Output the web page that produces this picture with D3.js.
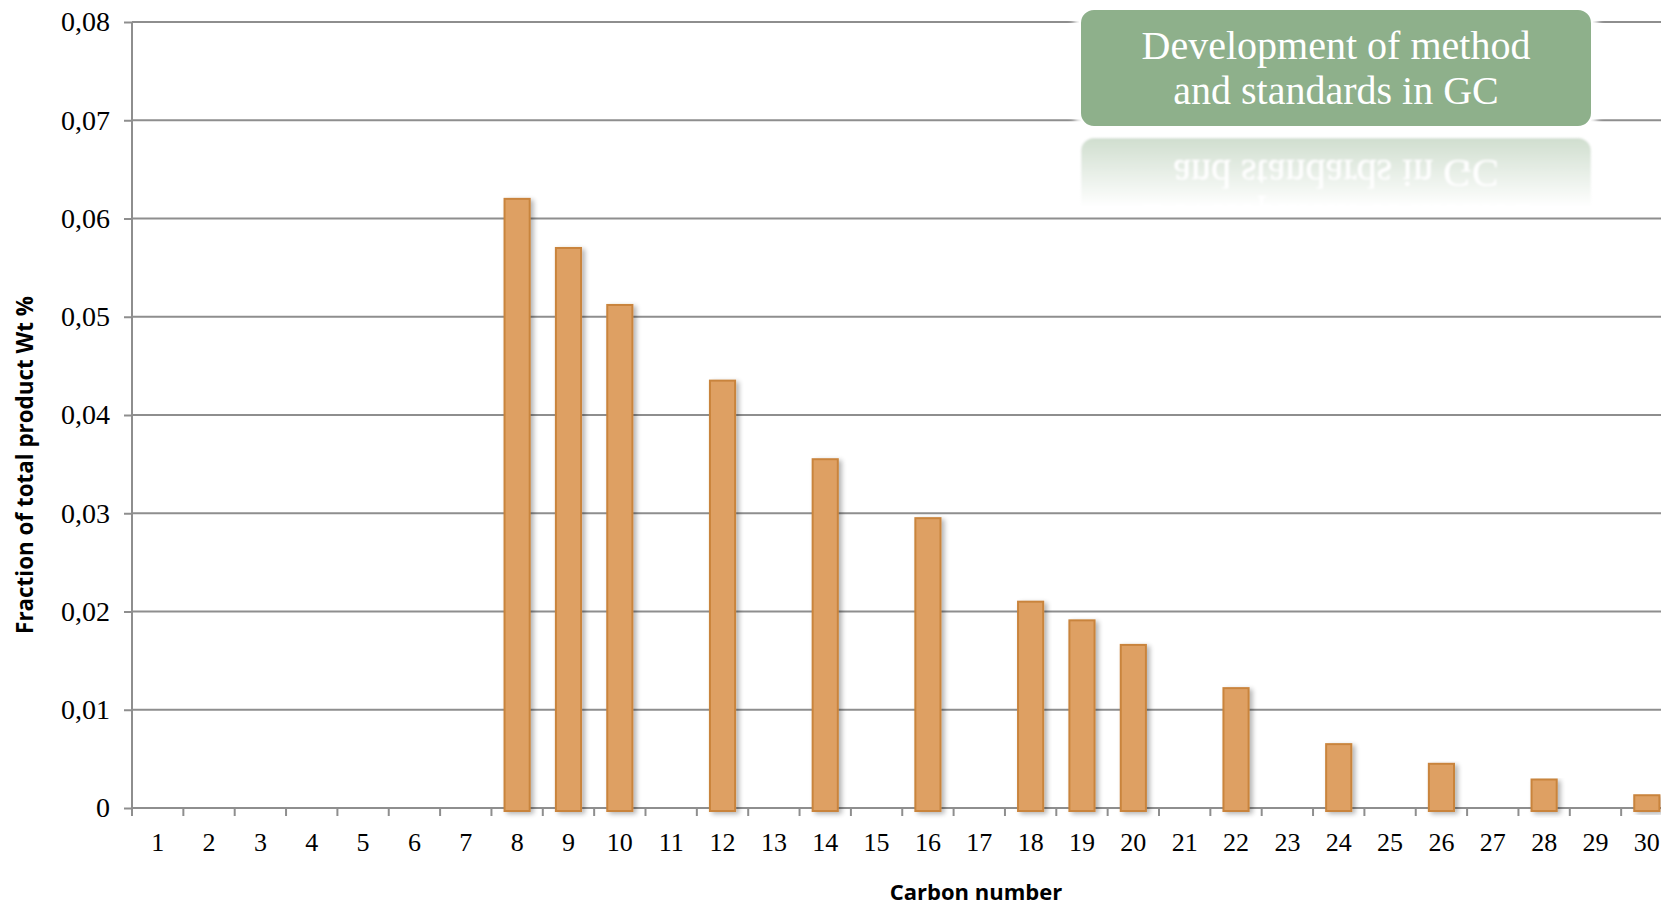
<!DOCTYPE html>
<html>
<head>
<meta charset="utf-8">
<script src="https://cdn.jsdelivr.net/npm/d3@7"></script>
<style>
  html, body { margin: 0; padding: 0; background: #fff; }
  svg { display: block; }
</style>
</head>
<body>
<svg id="chart" width="1661" height="908"></svg>
<script>
// Carbon numbers on the x axis
const carbonNumbers = d3.range(1, 31);
// Fraction of total product (Wt %) per carbon number; 0 where nothing was measured
const fractions = [
  0, 0, 0, 0, 0, 0, 0,
  0.0620, 0.0570, 0.0512, 0, 0.0435, 0, 0.0355, 0, 0.0295, 0,
  0.0210, 0.0191, 0.0166, 0, 0.0122, 0, 0.0065, 0, 0.0045, 0, 0.0029, 0, 0.0013
];
const yTickValues = [0, 0.01, 0.02, 0.03, 0.04, 0.05, 0.06, 0.07, 0.08];
const yTickLabels = ["0", "0,01", "0,02", "0,03", "0,04", "0,05", "0,06", "0,07", "0,08"];
const titleLines = ["Development of method", "and standards in GC"];

const svg = d3.select("#chart");
const W = 1661, H = 908;
const plotLeft = 132, plotBottom = 808, plotTop = 22;
const bandWidth = 51.35;
const plotRight = plotLeft + bandWidth * carbonNumbers.length;

const x = d3.scaleBand().domain(carbonNumbers).range([plotLeft, plotRight]).paddingInner(0.51).paddingOuter(0.255);
const xEdges = d3.scaleLinear().domain([0, carbonNumbers.length]).range([plotLeft, plotRight]);
const y = d3.scaleLinear().domain([0, 0.08]).range([plotBottom, plotTop]);

const defs = svg.append("defs");
const shadow = defs.append("filter").attr("id", "barShadow")
  .attr("x", "-30%").attr("y", "-10%").attr("width", "170%").attr("height", "130%");
shadow.append("feGaussianBlur").attr("in", "SourceAlpha").attr("stdDeviation", 2.5).attr("result", "b");
shadow.append("feOffset").attr("in", "b").attr("dx", 3).attr("dy", 2).attr("result", "o");
shadow.append("feComponentTransfer").attr("in", "o").attr("result", "s")
  .append("feFuncA").attr("type", "linear").attr("slope", 0.3);
const mg = shadow.append("feMerge");
mg.append("feMergeNode").attr("in", "s");
mg.append("feMergeNode").attr("in", "SourceGraphic");

// Gridlines
svg.append("g")
  .selectAll("line").data(yTickValues.filter(v => v > 0)).join("line")
  .attr("x1", plotLeft).attr("x2", W)
  .attr("y1", d => y(d)).attr("y2", d => y(d))
  .attr("stroke", "#8e8e8e").attr("stroke-width", 2);

// Y axis
const yAxis = d3.axisLeft(y).tickValues(yTickValues).tickSize(8).tickPadding(14)
  .tickFormat((d, i) => yTickLabels[i]);
const gy = svg.append("g").attr("transform", `translate(${plotLeft},0)`).call(yAxis);
gy.select(".domain").attr("stroke", "#8e8e8e").attr("stroke-width", 2).attr("d", `M0,${plotTop}V${plotBottom}`);
gy.selectAll(".tick line").attr("stroke", "#8e8e8e").attr("stroke-width", 2);
gy.selectAll(".tick text")
  .attr("font-family", "'Liberation Serif', 'DejaVu Serif', serif")
  .attr("font-size", 28).attr("fill", "#000");

// X axis baseline and ticks at category boundaries
svg.append("line").attr("x1", plotLeft).attr("x2", W).attr("y1", plotBottom).attr("y2", plotBottom)
  .attr("stroke", "#8e8e8e").attr("stroke-width", 2);
svg.append("g").selectAll("line").data(d3.range(0, carbonNumbers.length + 1)).join("line")
  .attr("x1", d => xEdges(d)).attr("x2", d => xEdges(d))
  .attr("y1", plotBottom).attr("y2", plotBottom + 8)
  .attr("stroke", "#8e8e8e").attr("stroke-width", 2);
svg.append("g").selectAll("text").data(carbonNumbers).join("text")
  .attr("x", d => x(d) + x.bandwidth() / 2)
  .attr("y", 851)
  .attr("text-anchor", "middle")
  .attr("font-family", "'Liberation Serif', 'DejaVu Serif', serif")
  .attr("font-size", 26).attr("fill", "#000")
  .text(d => d);

// Bars
svg.append("g").selectAll("rect")
  .data(carbonNumbers.map((c, i) => ({ c, v: fractions[i] })).filter(d => d.v > 0))
  .join("rect")
  .attr("x", d => x(d.c))
  .attr("y", d => y(d.v))
  .attr("width", x.bandwidth())
  .attr("height", d => plotBottom + 3 - y(d.v))
  .attr("fill", "#dea064")
  .attr("stroke", "#c9843c")
  .attr("stroke-width", 2)
  .attr("filter", "url(#barShadow)");

// Axis titles
svg.append("text")
  .attr("x", 976).attr("y", 900)
  .attr("text-anchor", "middle")
  .attr("font-family", "'Open Sans', 'Liberation Sans', sans-serif")
  .attr("font-weight", "bold").attr("font-size", 22).attr("fill", "#000")
  .text("Carbon number");
svg.append("text")
  .attr("transform", "translate(33,465) rotate(-90)")
  .attr("text-anchor", "middle")
  .attr("font-family", "'Open Sans', 'Liberation Sans', sans-serif")
  .attr("font-weight", "bold").attr("font-size", 22.4).attr("fill", "#000")
  .text("Fraction of total product Wt %");

// Title badge with a mirrored, fading reflection beneath it
const bx = 1080, by = 9, bw = 512, bh = 118;
const glow = defs.append("filter").attr("id", "glow").attr("x", "-5%").attr("y", "-10%").attr("width", "110%").attr("height", "120%");
glow.append("feGaussianBlur").attr("stdDeviation", 3);
const soften = defs.append("filter").attr("id", "soften");
soften.append("feGaussianBlur").attr("stdDeviation", 0.8);
const fade = defs.append("linearGradient").attr("id", "fade").attr("x1", 0).attr("y1", 0).attr("x2", 0).attr("y2", 1);
fade.append("stop").attr("offset", "0%").attr("stop-color", "#fff").attr("stop-opacity", 0.45);
fade.append("stop").attr("offset", "100%").attr("stop-color", "#fff").attr("stop-opacity", 0);
defs.append("mask").attr("id", "fadeMask").attr("maskUnits", "userSpaceOnUse")
  .attr("x", bx - 20).attr("y", by + bh).attr("width", bw + 40).attr("height", 84)
  .append("rect").attr("x", bx - 20).attr("y", by + bh + 6).attr("width", bw + 40).attr("height", 74)
  .attr("fill", "url(#fade)");

const badge = svg.append("g");
badge.append("rect").attr("x", bx - 6).attr("y", by - 5).attr("width", bw + 12).attr("height", bh + 10)
  .attr("rx", 18).attr("fill", "#fff").attr("filter", "url(#glow)");

function drawBadge(g) {
  g.append("rect").attr("x", bx).attr("y", by).attr("width", bw).attr("height", bh)
    .attr("rx", 14).attr("fill", "#8eb08b").attr("stroke", "#fff").attr("stroke-width", 2);
  g.selectAll("text").data(titleLines).join("text")
    .attr("x", bx + bw / 2)
    .attr("y", (d, i) => by + 50 + i * 45)
    .attr("text-anchor", "middle")
    .attr("font-family", "'Liberation Serif', 'DejaVu Serif', serif")
    .attr("font-size", 40).attr("fill", "#fff")
    .text(d => d);
}
drawBadge(badge.append("g"));
const refl = svg.append("g").attr("mask", "url(#fadeMask)").attr("filter", "url(#soften)")
  .append("g").attr("transform", `translate(0,${2 * (by + bh) + 10}) scale(1,-1)`);
drawBadge(refl);
</script>
</body>
</html>
